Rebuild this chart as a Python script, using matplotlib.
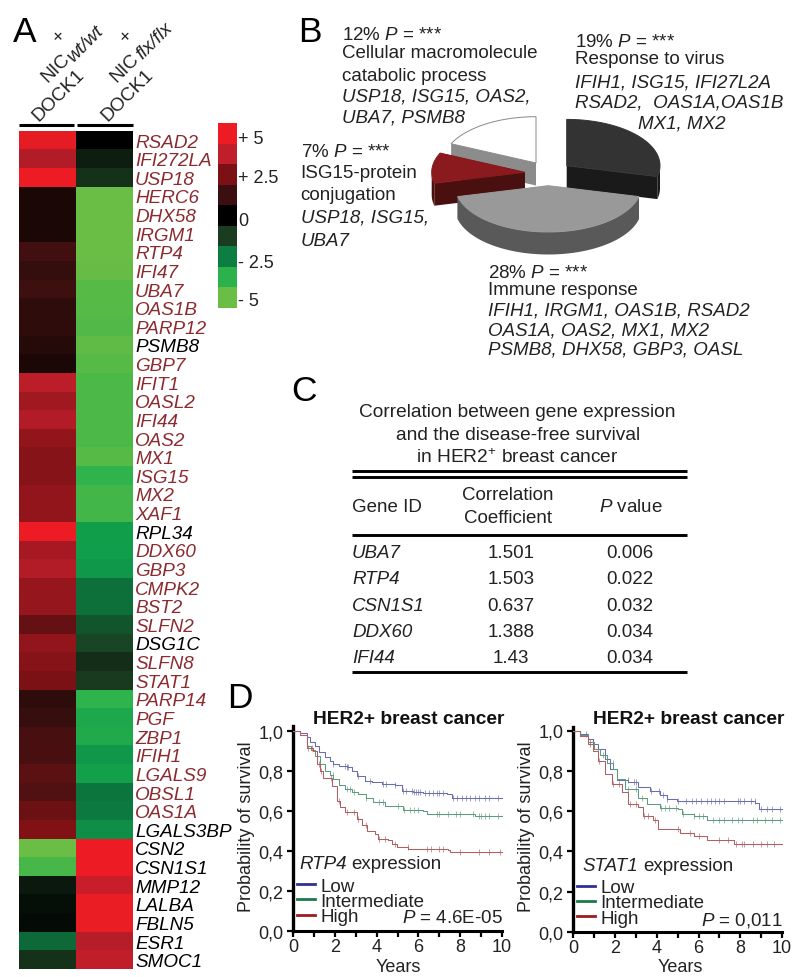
import matplotlib
matplotlib.use('Agg')
import matplotlib.pyplot as plt
import numpy as np
from matplotlib.colors import LinearSegmentedColormap
from matplotlib.lines import Line2D

plt.rcParams['font.family'] = 'Liberation Sans'
plt.rcParams['mathtext.fontset'] = 'custom'
plt.rcParams['mathtext.rm'] = 'Liberation Sans'
plt.rcParams['mathtext.it'] = 'Liberation Sans:italic'
plt.rcParams['mathtext.bf'] = 'Liberation Sans:bold'

W, H = 793, 978

# === Panel A data ===
genes = ['RSAD2', 'IFI272LA', 'USP18', 'HERC6', 'DHX58', 'IRGM1', 'RTP4', 'IFI47', 'UBA7',
         'OAS1B', 'PARP12', 'PSMB8', 'GBP7', 'IFIT1', 'OASL2', 'IFI44', 'OAS2', 'MX1', 'ISG15',
         'MX2', 'XAF1', 'RPL34', 'DDX60', 'GBP3', 'CMPK2', 'BST2', 'SLFN2', 'DSG1C', 'SLFN8',
         'STAT1', 'PARP14', 'PGF', 'ZBP1', 'IFIH1', 'LGALS9', 'OBSL1', 'OAS1A', 'LGALS3BP',
         'CSN2', 'CSN1S1', 'MMP12', 'LALBA', 'FBLN5', 'ESR1', 'SMOC1']
black_genes = ['PSMB8', 'RPL34', 'DSG1C', 'LGALS3BP', 'CSN2', 'CSN1S1', 'MMP12', 'LALBA',
               'FBLN5', 'ESR1', 'SMOC1']
wt_values = [4.8, 3.5, 5.0, 0.6, 0.6, 0.6, 1.4, 1.1, 1.3, 1.0, 1.0, 0.8, 0.6, 3.7, 3.2, 3.5,
             2.9, 2.7, 2.7, 2.9, 2.9, 5.0, 3.3, 3.5, 3.0, 3.0, 2.1, 2.9, 2.7, 2.5, 1.0, 1.2,
             1.5, 1.5, 1.9, 1.7, 2.2, 2.6, -5.0, -4.3, -0.5, -0.3, -0.2, -2.1, -1.0]
flx_values = [0.0, -0.6, -1.0, -5.0, -5.0, -5.0, -5.0, -4.9, -4.6, -4.6, -4.5, -4.8, -4.6, -4.4,
              -4.4, -4.4, -4.4, -4.6, -3.8, -4.2, -4.2, -3.1, -3.1, -3.0, -2.2, -2.2, -1.7, -1.4,
              -0.9, -1.2, -3.8, -3.4, -3.5, -3.0, -3.2, -2.3, -2.4, -2.8, 5.0, 5.0, 4.0, 4.9,
              4.9, 3.6, 3.8]
scale_levels = [5, 3.75, 2.5, 1.25, 0, -1.25, -2.5, -3.75, -5]
scale_ticks = [0.68, 2.53, 4.67, 6.71, 8.56]
scale_labels = ['+ 5', '+ 2.5', '0', '- 2.5', '- 5']

# === Panel B data ===
pie_shares = [12, 7, 28, 19]
pie_top = ['#ffffff', '#8b1a1e', '#999999', '#333333']
pie_side = ['#8c8c8c', '#4a1010', '#595959', '#1a1a1a']
pie_centres = [(536.0, 164.0), (525.0, 173.3), (548.3, 186.7), (566.7, 166.7)]

# === Panel C data ===
table_genes = ['UBA7', 'RTP4', 'CSN1S1', 'DDX60', 'IFI44']
table_corr = ['1.501', '1.503', '0.637', '1.388', '1.43']
table_p = ['0.006', '0.022', '0.032', '0.034', '0.034']

# === Panel D data ===
rtp4_low_x = [0, 0.3, 0.64, 0.8, 1.04, 1.25, 1.52, 1.75, 1.92, 2.2, 2.56, 2.8, 3.04, 3.44, 3.8,
              4.24, 4.88, 5.2, 5.76, 6.24, 7.36, 7.6, 10]
rtp4_low_y = [1.0, 0.99, 0.968, 0.945, 0.926, 0.895, 0.868, 0.85, 0.835, 0.825, 0.818, 0.80,
              0.776, 0.751, 0.745, 0.734, 0.73, 0.70, 0.695, 0.69, 0.685, 0.664, 0.664]
rtp4_mid_x = [0, 0.3, 0.64, 0.85, 1.04, 1.3, 1.52, 1.75, 1.92, 2.2, 2.48, 2.8, 3.12, 3.5, 3.84,
              4.4, 5.04, 5.28, 6.24, 6.4, 8.48, 8.72, 10]
rtp4_mid_y = [1.0, 0.98, 0.925, 0.905, 0.875, 0.835, 0.80, 0.78, 0.758, 0.73, 0.708, 0.695,
              0.683, 0.665, 0.642, 0.625, 0.622, 0.603, 0.597, 0.583, 0.583, 0.572, 0.572]
rtp4_high_x = [0, 0.3, 0.64, 0.96, 1.15, 1.3, 1.44, 1.84, 2.08, 2.25, 2.48, 3.04, 3.3, 3.52,
               3.92, 4.08, 4.56, 4.75, 4.96, 5.52, 7.44, 7.52, 10]
rtp4_high_y = [1.0, 0.98, 0.917, 0.90, 0.833, 0.80, 0.767, 0.725, 0.65, 0.62, 0.595, 0.558,
               0.53, 0.497, 0.483, 0.458, 0.455, 0.435, 0.417, 0.408, 0.405, 0.392, 0.392]
rtp4_low_cens = [1.92, 2.5, 2.56, 2.62, 3.1, 3.7, 4.3, 4.45, 4.9, 5.25, 5.4, 5.7, 5.8, 5.9, 6.0,
                 6.1, 6.3, 6.5, 6.7, 6.9, 7.0, 7.2, 7.65, 7.85, 8.1, 8.3, 8.5, 8.7, 8.9, 9.2, 9.4, 9.8]
rtp4_mid_cens = [1.9, 2.6, 2.7, 2.9, 3.5, 4.1, 4.3, 5.0, 5.3, 5.6, 5.8, 6.0, 6.9, 7.0, 7.4,
                 7.8, 8.0, 8.6, 8.9, 9.0, 9.2, 9.4, 9.8]
rtp4_high_cens = [0.7, 0.9, 1.25, 1.35, 1.8, 2.2, 2.6, 2.9, 3.1, 3.5, 4.1, 4.4, 4.9, 5.5, 6.4,
                  6.6, 7.0, 7.2, 8.0, 8.9, 9.4, 9.9]
stat1_low_x = [0, 0.3, 0.72, 0.95, 1.2, 1.5, 1.76, 2.08, 2.64, 3.12, 3.68, 4.16, 4.48, 4.96, 8.72,
               8.88, 10]
stat1_low_y = [1.0, 0.985, 0.958, 0.935, 0.909, 0.86, 0.81, 0.752, 0.744, 0.719, 0.702, 0.678,
               0.661, 0.648, 0.641, 0.612, 0.612]
stat1_mid_x = [0, 0.3, 0.72, 1.0, 1.28, 1.6, 1.92, 2.08, 2.48, 3.12, 3.52, 4.16, 5.04, 5.2, 5.76,
               6.4, 10]
stat1_mid_y = [1.0, 0.98, 0.942, 0.91, 0.876, 0.84, 0.81, 0.76, 0.711, 0.664, 0.636, 0.615,
               0.612, 0.587, 0.575, 0.555, 0.555]
stat1_high_x = [0, 0.3, 0.72, 0.95, 1.2, 1.52, 1.84, 2.32, 2.64, 3.12, 3.36, 3.84, 4.08, 4.48,
                5.12, 5.76, 6.4, 7.44, 7.68, 10]
stat1_high_y = [1.0, 0.975, 0.934, 0.90, 0.851, 0.785, 0.736, 0.694, 0.636, 0.62, 0.575, 0.554,
                0.512, 0.509, 0.493, 0.476, 0.456, 0.455, 0.438, 0.438]
stat1_low_cens = [0.6, 1.2, 2.6, 2.9, 3.0, 3.7, 4.1, 4.3, 4.5, 5.0, 5.4, 5.7, 5.9, 6.1, 6.4, 6.6,
                  6.8, 7.0, 7.2, 7.9, 8.0, 8.2, 8.5, 8.7, 9.0, 9.3, 9.5, 9.9]
stat1_mid_cens = [0.8, 1.4, 1.9, 2.6, 3.0, 3.3, 4.2, 4.4, 4.6, 4.9, 5.25, 5.8, 6.0, 6.2, 6.7, 7.0,
                  7.2, 7.6, 7.9, 8.1, 8.6, 8.8, 9.2, 9.5, 9.9]
stat1_high_cens = [0.8, 1.25, 1.9, 2.2, 2.7, 3.0, 3.4, 3.6, 3.9, 5.0, 5.6, 6.0, 7.0, 7.4, 7.8, 8.1,
                   8.2, 8.6, 9.0, 9.3, 9.6]

RED_TEXT = '#8b2b30'
DARK = '#222222'
LOW_C, MID_C, HIGH_C = '#6a6db0', '#5f9b7f', '#b06060'
LEG_LOW, LEG_MID, LEG_HIGH = '#2e3192', '#1b7a4a', '#9b1c20'

cmap = LinearSegmentedColormap.from_list('heat', [
    (0.0, '#6abd45'), (0.125, '#2bb24c'), (0.19, '#0f9d4a'), (0.25, '#0c7f42'), (0.3, '#0d6535'),
    (0.375, '#1a3d20'), (0.5, '#000000'), (0.625, '#3a0f0f'), (0.75, '#7a1114'),
    (0.875, '#be1e2a'), (1.0, '#ed1c24')])


def px_axes(fig, left, top, right, bottom):
    return fig.add_axes([left / W, 1 - bottom / H, (right - left) / W, (bottom - top) / H])


def step_value(xs, ys, t):
    idx = np.searchsorted(xs, t, side='right') - 1
    return np.asarray(ys)[idx]


fig = plt.figure(figsize=(W / 100, H / 100), dpi=100)
canvas = fig.add_axes([0, 0, 1, 1])
canvas.set_xlim(0, W)
canvas.set_ylim(H, 0)
canvas.axis('off')
canvas.set_zorder(1)


def put(x, y, s, size=13.5, color=DARK, **kw):
    return canvas.text(x, y, s, fontsize=size, color=color, va='baseline', **kw)


for label, x, y in [('A', 13, 42), ('B', 298, 42), ('C', 291.5, 401), ('D', 227, 708)]:
    put(x, y, label, size=25.5, color='black')

# === Panel A: heatmap ===
ax = px_axes(fig, 19, 131.7, 133, 970)
ax.pcolormesh(np.array([wt_values, flx_values]).T, cmap=cmap, vmin=-5, vmax=5)
ax.set_ylim(len(genes), 0)
ax.set_xticks([])
ax.yaxis.tick_right()
ax.set_yticks(np.arange(len(genes)) + 0.5)
ax.set_yticklabels(genes, fontsize=13.6, style='italic')
for lab, g in zip(ax.get_yticklabels(), genes):
    lab.set_color('black' if g in black_genes else RED_TEXT)
ax.tick_params(axis='y', length=0, pad=1.5)
for s in ax.spines.values():
    s.set_visible(False)

canvas.plot([19, 74], [126, 126], color='black', lw=2.2, solid_capstyle='butt')
canvas.plot([77, 133], [126, 126], color='black', lw=2.2, solid_capstyle='butt')
for x0, sub, y_sub in [(0, 'wt/wt', 63), (69, 'flx/flx', 60)]:
    rot = dict(rotation=45, rotation_mode='anchor')
    put(38 + x0, 122, 'DOCK1', size=13.8, **rot)
    put(47 + x0, 83, 'NIC', size=13.8, **rot)
    put(73 + x0, y_sub, sub, size=13.8, style='italic', **rot)
    canvas.text(59 + x0 * 0.98, 37.5, '+', fontsize=13.8, color=DARK, rotation=45, ha='center',
                va='center', rotation_mode='anchor')

cb = px_axes(fig, 218, 124, 237, 309)
cb.pcolormesh(np.array(scale_levels).reshape(-1, 1), cmap=cmap, vmin=-5, vmax=5)
cb.set_ylim(len(scale_levels), 0)
cb.set_xticks([])
cb.yaxis.tick_right()
cb.set_yticks(scale_ticks)
cb.set_yticklabels(scale_labels, fontsize=13, color=DARK)
cb.tick_params(axis='y', length=0, pad=1)
for s in cb.spines.values():
    s.set_visible(False)

# === Panel B: exploded 3D pie ===
RX, RY, DEPTH = 93.3, 46.3, 22.5
edges = 90 + np.concatenate([[0], np.cumsum(pie_shares)]) / np.sum(pie_shares) * 360

for i in [0, 1, 3, 2]:
    cx, cy = pie_centres[i]
    t = np.radians(np.linspace(edges[i], edges[i + 1], 80))
    ox, oy = cx + RX * np.cos(t), cy - RY * np.sin(t)
    # cut faces
    for k in [0, -1]:
        canvas.fill([ox[k], cx, cx, ox[k]], [oy[k], cy, cy + DEPTH, oy[k] + DEPTH],
                    color=pie_side[i], lw=0)
    # outer wall where it faces the viewer
    front = np.sin(t) <= 0
    if front.any():
        canvas.fill(np.r_[ox[front], ox[front][::-1]],
                    np.r_[oy[front], oy[front][::-1] + DEPTH],
                    color=pie_side[i], lw=0)
    ec = '#888888' if pie_top[i] == '#ffffff' else pie_top[i]
    canvas.fill(np.r_[cx, ox], np.r_[cy, oy], facecolor=pie_top[i], edgecolor=ec, lw=0.7)

p_star = r'$\mathit{P}$ = ***'
put(341.7, 40, '12% ' + p_star)
put(341.7, 58, 'Cellular macromolecule')
put(341.7, 81, 'catabolic process')
put(341.7, 102, 'USP18, ISG15, OAS2,', style='italic')
put(341.7, 122.7, 'UBA7, PSMB8', style='italic')

put(575, 46.7, '19% ' + p_star)
put(575, 64.3, 'Response to virus')
put(575, 87.3, 'IFIH1, ISG15, IFI27L2A', style='italic')
put(575, 107.3, 'RSAD2,  OAS1A,OAS1B', style='italic')
put(638, 128.3, 'MX1, MX2', style='italic')

put(300.7, 156.7, '7% ' + p_star)
put(300.7, 178.3, 'ISG15-protein')
put(300.7, 200, 'conjugation')
put(300.7, 222.7, 'USP18, ISG15,', style='italic')
put(300.7, 245.7, 'UBA7', style='italic')

put(488.3, 278.3, '28% ' + p_star)
put(488.3, 295, 'Immune response')
put(488.3, 315, 'IFIH1, IRGM1, OAS1B, RSAD2', style='italic')
put(488.3, 335, 'OAS1A, OAS2, MX1, MX2', style='italic')
put(488.3, 354.3, 'PSMB8, DHX58, GBP3, OASL', style='italic')

# === Panel C: table ===
put(517.7, 416.7, 'Correlation between gene expression', size=13.8, ha='center')
put(517.7, 440, 'and the disease-free survival', size=13.8, ha='center')
put(517.7, 463.3, r'in HER2$^{+}$ breast cancer', size=13.8, ha='center')
for y in [472.3, 478.3, 536.3, 673.3]:
    canvas.plot([351.7, 686.7], [y, y], color='black', lw=2.1, solid_capstyle='butt')
put(352, 511.7, 'Gene ID')
put(508, 500, 'Correlation', ha='center')
put(508, 523.3, 'Coefficient', ha='center')
put(630.7, 511.7, r'$\mathit{P}$ value', ha='center')
row_y = [558.3, 584.3, 610.7, 636.7, 662.7]
for y, g, c, p in zip(row_y, table_genes, table_corr, table_p):
    put(352, y, g, style='italic')
    put(510.7, y, c, ha='center')
    put(630, y, p, ha='center')


# === Panel D: survival curves ===
def km_panel(rect, curves, title_x, gene, gene_x, gene_y, p_text, p_x, p_y, leg_x, leg_y, ylab_x, years_x):
    left, top, right, zero_y, one_y = rect
    a = px_axes(fig, left, top, right, zero_y)
    a.set_xlim(0, 10)
    a.set_ylim(0, (zero_y - top) / (zero_y - one_y))
    a.patch.set_alpha(0)
    for xs, ys, cens, col in curves:
        a.plot(xs, ys, drawstyle='steps-post', color=col, lw=0.75, zorder=3, clip_on=False)
        a.plot(cens, step_value(xs, ys, cens), ls='none', marker='|', ms=4.5, mew=0.6,
               color=col, alpha=0.75, zorder=3, clip_on=False)
    a.spines['top'].set_visible(False)
    a.spines['right'].set_visible(False)
    a.spines['left'].set_linewidth(2.4)
    a.spines['bottom'].set_linewidth(2.2)
    a.set_xticks(np.arange(0, 11))
    a.set_xticklabels(['0', '', '2', '', '4', '', '6', '', '8', '', '10'], fontsize=13, color=DARK)
    a.set_yticks([0, 0.2, 0.4, 0.6, 0.8, 1.0])
    a.set_yticklabels(['0,0', '0,2', '0,4', '0,6', '0,8', '1,0'], fontsize=13, color=DARK)
    a.tick_params(axis='both', length=4, width=1.6, color='black')
    a.tick_params(axis='x', pad=1)
    a.tick_params(axis='y', pad=3)
    put(title_x, 724.3, 'HER2+ breast cancer', size=13.8, weight='bold', color='#111111')
    g = put(gene_x, gene_y, gene, style='italic')
    x_end = canvas.transData.inverted().transform(
        g.get_window_extent(fig.canvas.get_renderer()))[1, 0]
    put(x_end + 4.5, gene_y, 'expression')
    put(p_x, p_y, p_text, ha='right')
    put(years_x, 971.7, 'Years', size=13, ha='center')
    put(ylab_x, 826.7, 'Probability of survival', size=13, rotation=90, ha='center',
        rotation_mode='anchor')
    handles = [Line2D([], [], color=c, lw=2.0) for c in (LEG_LOW, LEG_MID, LEG_HIGH)]
    return canvas.legend(handles, ['Low', 'Intermediate', 'High'], loc='upper left',
                         bbox_to_anchor=(leg_x, leg_y), bbox_transform=canvas.transData, frameon=False,
                         fontsize=13.5, labelspacing=-0.1, handlelength=1.0, handletextpad=0.25,
                         borderpad=0, borderaxespad=0, labelcolor=DARK)


first_legend = km_panel((293.3, 726.7, 501.7, 931.7, 732),
                        [(rtp4_low_x, rtp4_low_y, rtp4_low_cens, LOW_C),
                         (rtp4_mid_x, rtp4_mid_y, rtp4_mid_cens, MID_C),
                         (rtp4_high_x, rtp4_high_y, rtp4_high_cens, HIGH_C)],
                        312.7, 'RTP4', 299.3, 869.3, r'$\mathit{P}$ = 4.6E-05', 503, 923.3,
                        296.7, 878.5, 250.7, 398)
canvas.add_artist(first_legend)
km_panel((573.3, 728.3, 782, 933, 731.5),
         [(stat1_low_x, stat1_low_y, stat1_low_cens, LOW_C),
          (stat1_mid_x, stat1_mid_y, stat1_mid_cens, MID_C),
          (stat1_high_x, stat1_high_y, stat1_high_cens, HIGH_C)],
         592.7, 'STAT1', 582.7, 871, r'$\mathit{P}$ = 0,011', 783, 925, 576.7, 880, 530.7, 680)

fig.savefig('out.png', dpi=100)
